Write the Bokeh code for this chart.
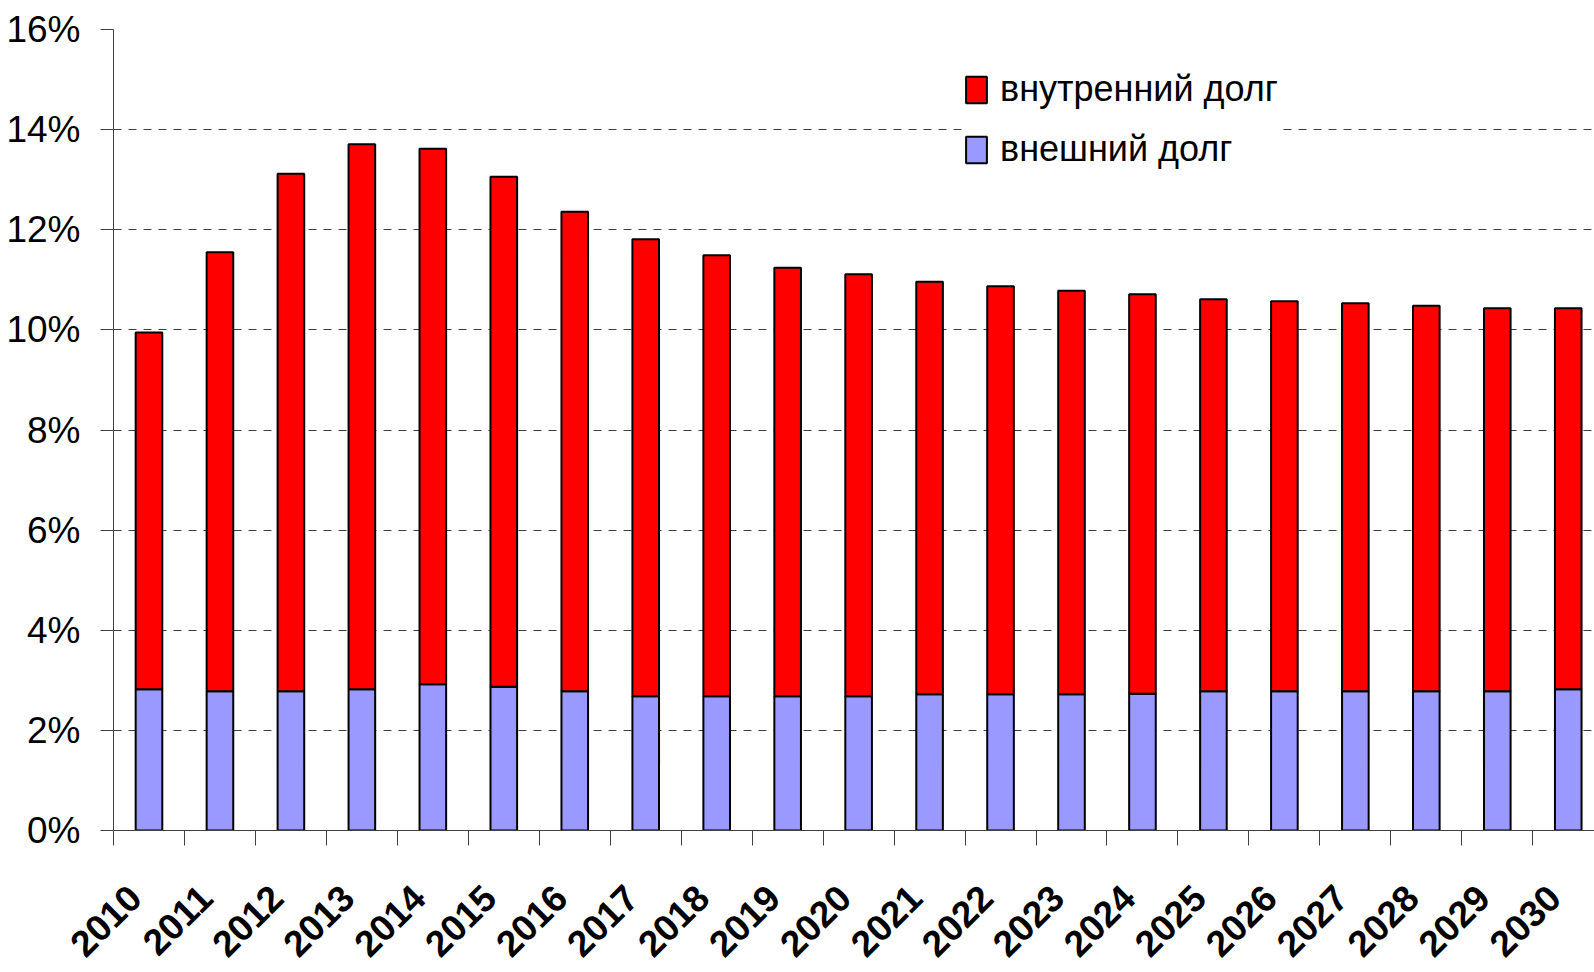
import math
from bokeh.plotting import figure
from bokeh.models import (ColumnDataSource, FixedTicker, Legend, LegendItem, Range1d)
from bokeh.embed import file_html
from bokeh.resources import INLINE

years = ["2010", "2011", "2012", "2013", "2014", "2015", "2016", "2017", "2018", "2019",
         "2020", "2021", "2022", "2023", "2024", "2025", "2026", "2027", "2028", "2029", "2030"]
external_debt = [2.82, 2.78, 2.78, 2.82, 2.92, 2.87, 2.78, 2.68, 2.68, 2.68,
                 2.68, 2.72, 2.72, 2.72, 2.73, 2.78, 2.78, 2.78, 2.78, 2.78, 2.82]
internal_debt = [7.13, 8.77, 10.34, 10.89, 10.70, 10.19, 9.58, 9.13, 8.81, 8.56,
                 8.43, 8.24, 8.15, 8.06, 7.98, 7.83, 7.79, 7.75, 7.70, 7.65, 7.61]
y_ticks = [0, 2, 4, 6, 8, 10, 12, 14, 16]
y_tick_labels = ["0%", "2%", "4%", "6%", "8%", "10%", "12%", "14%", "16%"]
series_names = ["внутренний долг", "внешний долг"]
series_colors = ["#FF0000", "#9999FF"]

FONT = "Liberation Sans"

xs = list(range(len(years)))
label_pos = [i - 0.2 for i in xs]
source = ColumnDataSource(dict(x=xs, external=external_debt, internal=internal_debt))

p = figure(width=1594, height=972, output_backend="svg", toolbar_location=None,
           x_range=Range1d(-0.5, 20.37), y_range=Range1d(0, 16),
           min_border_left=113, min_border_right=0, min_border_top=29, min_border_bottom=142)
p.outline_line_color = None
p.background_fill_color = "white"
p.border_fill_color = "white"

rs = p.vbar_stack(["external", "internal"], x="x", width=0.375, source=source,
                  fill_color=[series_colors[1], series_colors[0]],
                  line_color="black", line_width=2)

# X axis: minor ticks on category boundaries, labels near centres
xa = p.xaxis[0]
xa.ticker = FixedTicker(ticks=label_pos, minor_ticks=[i - 0.5 for i in range(len(years) + 1)])
xa.major_label_overrides = {pos: y for pos, y in zip(label_pos, years)}
xa.major_tick_out = 0
xa.major_tick_in = 0
xa.minor_tick_out = 15
xa.minor_tick_in = 0
xa.minor_tick_line_color = "#404040"
xa.axis_line_color = "#404040"
xa.major_label_orientation = math.pi / 4
xa.major_label_text_font = FONT
xa.major_label_text_font_style = "bold"
xa.major_label_text_font_size = "37px"
xa.major_label_text_color = "black"
xa.major_label_standoff = 46

ya = p.yaxis[0]
ya.ticker = FixedTicker(ticks=y_ticks, minor_ticks=[])
ya.major_label_overrides = {t: l for t, l in zip(y_ticks, y_tick_labels)}
ya.major_tick_out = 13
ya.major_tick_in = 0
ya.minor_tick_out = 0
ya.minor_tick_in = 0
ya.axis_line_color = "#404040"
ya.major_tick_line_color = "#404040"
ya.major_label_text_font = FONT
ya.major_label_text_font_size = "37px"
ya.major_label_text_color = "black"
ya.major_label_standoff = 20

p.xgrid.grid_line_color = None
p.ygrid.ticker = FixedTicker(ticks=y_ticks)
p.ygrid.grid_line_color = "#404040"
p.ygrid.grid_line_dash = "8 7"
p.ygrid.grid_line_width = 1

legend = Legend(items=[LegendItem(label=series_names[0], renderers=[rs[1]]),
                       LegendItem(label=series_names[1], renderers=[rs[0]])],
                location=(850, 660))
legend.label_text_font = FONT
legend.label_text_font_size = "36px"
legend.label_text_color = "black"
legend.glyph_width = 26
legend.glyph_height = 33
legend.label_standoff = 11
legend.spacing = 18
legend.padding = 16
legend.margin = 0
legend.border_line_color = None
legend.background_fill_color = "white"
legend.background_fill_alpha = 1.0
p.add_layout(legend)

open("out.html", "w").write(file_html(p, INLINE))
